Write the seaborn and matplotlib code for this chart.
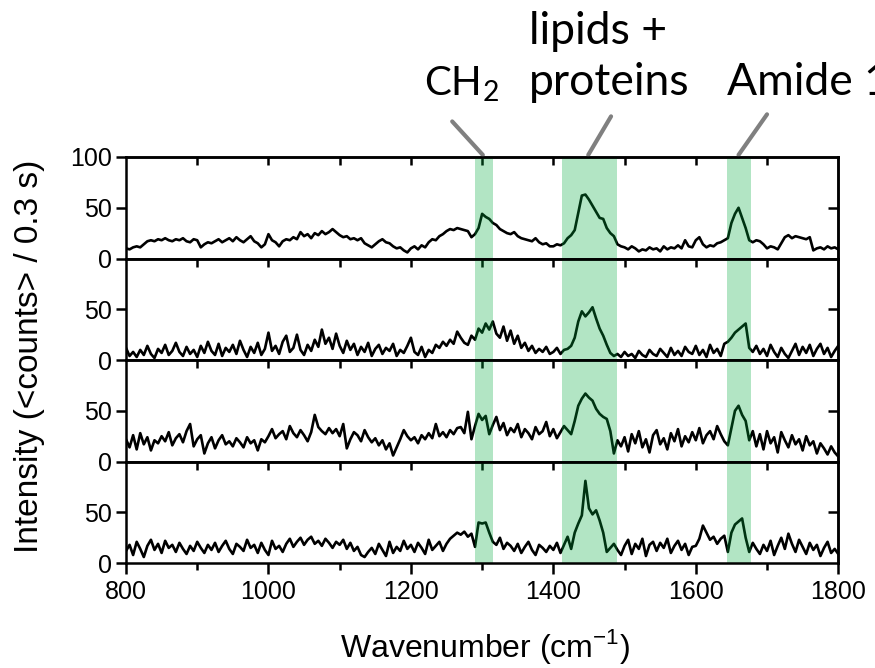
import numpy as np
import matplotlib
matplotlib.use("Agg")
import matplotlib.pyplot as plt
import seaborn as sns

# wavenumber grid, cm^-1
wavenumber = np.arange(800, 1801, 5)

# spectra (top to bottom)
spectrum_1 = [
    10, 9, 11, 12, 11, 14, 17, 18, 17, 19, 18, 20, 18, 17, 19, 18, 20, 17, 16, 19,
    18, 11, 14, 16, 15, 17, 19, 16, 18, 20, 17, 21, 18, 16, 19, 22, 17, 15, 11, 14,
    24, 18, 16, 12, 17, 19, 18, 21, 19, 26, 22, 24, 20, 25, 23, 27, 24, 26, 29, 26,
    23, 21, 22, 19, 20, 18, 20, 15, 13, 11, 14, 17, 19, 16, 15, 12, 10, 11, 8, 6,
    10, 12, 9, 13, 11, 16, 19, 18, 22, 24, 27, 29, 28, 30, 29, 28, 27, 21, 24, 30,
    44, 41, 39, 35, 33, 29, 27, 25, 24, 26, 22, 20, 19, 18, 17, 20, 16, 14, 15, 12,
    12, 14, 13, 15, 20, 23, 28, 45, 62, 63, 58, 52, 46, 40, 39, 30, 25, 22, 14, 12,
    11, 9, 12, 10, 7, 9, 8, 11, 9, 10, 7, 12, 9, 11, 10, 13, 10, 18, 12, 11,
    18, 21, 14, 11, 13, 12, 15, 16, 18, 20, 35, 44, 50, 40, 30, 18, 16, 18, 17, 14,
    10, 12, 11, 9, 15, 21, 23, 20, 22, 21, 20, 19, 21, 8, 10, 11, 9, 12, 10, 11,
    9,
]
spectrum_2 = [
    12, 4, 8, 3, 10, 5, 14, 6, 2, 11, 7, 15, 5, 9, 17, 8, 4, 13, 6, 10,
    3, 14, 7, 18, 9, 5, 16, 4, 12, 8, 15, 6, 19, 10, 3, 13, 7, 17, 5, 11,
    27, 9, 14, 6, 18, 24, 8, 12, 25, 10, 5, 15, 9, 20, 13, 30, 16, 22, 11, 26,
    14, 7, 19, 10, 16, 5, 13, 8, 17, 4, 11, 15, 6, 12, 9, 16, 4, 10, 7, 14,
    22, 8, 5, 13, 3, 10, 7, 15, 12, 18, 14, 20, 16, 28, 22, 17, 15, 24, 20, 31,
    27, 36, 30, 38, 26, 22, 33, 19, 29, 16, 24, 12, 17, 9, 14, 7, 11, 8, 13, 6,
    8, 12, 6, 10, 11, 14, 22, 38, 48, 43, 47, 52, 41, 31, 24, 15, 7, 4, 6, 3,
    8, 4, 6, 2, 9, 5, 3, 10, 6, 4, 11, 7, 3, 12, 5, 9, 4, 13, 8, 6,
    14, 5, 10, 3, 15, 7, 11, 4, 16, 18, 22, 27, 30, 33, 36, 12, 8, 14, 6, 11,
    4, 15, 8, 3, 12, 6, 2, 9, 16, 5, 13, 7, 15, 4, 11, 16, 6, 12, 3, 9,
    14,
]
spectrum_3 = [
    22, 14, 26, 12, 28, 17, 24, 11, 21, 18, 25, 20, 29, 16, 23, 27, 19, 30, 37, 15,
    22, 26, 8, 18, 24, 13, 21, 26, 17, 20, 15, 23, 19, 14, 24, 18, 21, 11, 22, 19,
    25, 32, 23, 27, 30, 22, 35, 28, 24, 31, 26, 20, 29, 46, 34, 30, 27, 33, 28, 32,
    25, 37, 13, 22, 29, 26, 20, 31, 24, 19, 23, 16, 21, 12, 18, 6, 14, 22, 31, 25,
    21, 24, 18, 26, 22, 28, 23, 37, 25, 29, 24, 31, 27, 33, 34, 28, 49, 22, 35, 47,
    41, 45, 27, 36, 44, 31, 38, 26, 33, 29, 37, 24, 32, 28, 22, 34, 27, 30, 39, 25,
    32, 23, 29, 35, 31, 27, 40, 55, 62, 67, 63, 60, 52, 47, 44, 42, 30, 8, 21, 15,
    24, 10, 27, 18, 30, 14, 22, 9, 26, 31, 17, 23, 12, 28, 20, 32, 15, 25, 19, 29,
    21, 33, 18, 26, 30, 22, 35, 27, 20, 16, 33, 50, 55, 46, 40, 21, 30, 15, 27, 12,
    30, 18, 24, 9, 29, 21, 14, 26, 17, 22, 11, 25, 16, 20, 8, 18, 13, 7, 15, 9,
    5,
]
spectrum_4 = [
    12, 18, 8, 21, 14, 6, 17, 23, 13, 19, 10, 22, 15, 18, 11, 20, 14, 9, 17, 12,
    21, 15, 10, 18, 13, 20, 11, 17, 22, 14, 9, 19, 16, 12, 23, 15, 18, 10, 20, 13,
    8, 22, 14, 17, 11, 19, 24, 16, 21, 25, 18, 23, 26, 19, 22, 17, 24, 20, 15, 21,
    18, 23, 14, 20, 12, 16, 8, 6, 11, 15, 9, 19, 13, 7, 21, 10, 16, 12, 22, 14,
    18, 11, 20, 15, 9, 23, 13, 17, 21, 12, 19, 24, 27, 30, 28, 31, 26, 29, 16, 40,
    39, 40, 30, 21, 18, 25, 14, 20, 17, 12, 19, 10, 16, 21, 13, 8, 18, 15, 11, 17,
    13, 20, 10, 18, 26, 14, 30, 39, 47, 81, 54, 48, 52, 42, 30, 11, 15, 19, 13, 8,
    17, 23, 9, 19, 14, 24, 7, 18, 21, 12, 20, 15, 24, 10, 17, 22, 13, 19, 8, 16,
    17, 24, 37, 30, 23, 26, 19, 24, 27, 11, 30, 38, 41, 44, 25, 11, 20, 14, 9, 18,
    12, 22, 8, 17, 25, 14, 29, 19, 11, 23, 16, 9, 20, 13, 18, 7, 15, 21, 10, 14,
    9,
]
spectra = [spectrum_1, spectrum_2, spectrum_3, spectrum_4]

# highlighted bands (cm^-1)
band_starts = [1290, 1412, 1644]
band_ends = [1315, 1490, 1678]

x_major = [800, 1000, 1200, 1400, 1600, 1800]
x_minor = [900, 1100, 1300, 1500, 1700]

sns.set_style("ticks")
plt.rcParams["font.family"] = ["Liberation Sans", "DejaVu Sans"]
plt.rcParams["mathtext.fontset"] = "custom"
plt.rcParams["mathtext.rm"] = "Liberation Sans"
plt.rcParams["mathtext.sf"] = "Lato"
for key in ["text.color", "axes.labelcolor", "xtick.color", "ytick.color",
            "axes.edgecolor"]:
    plt.rcParams[key] = "black"

fig, axes = plt.subplots(4, 1, figsize=(8.75, 6.68), dpi=100, sharex=True)
fig.subplots_adjust(left=0.144, right=0.958, top=0.765, bottom=0.157, hspace=0)

band_color = (0.0, 0.67, 0.24)
lw_axis = 1.8

for i, (ax, spec) in enumerate(zip(axes, spectra)):
    sns.lineplot(x=wavenumber, y=spec, ax=ax, color="black", linewidth=1.9, zorder=2)
    for b0, b1 in zip(band_starts, band_ends):
        ax.axvspan(b0, b1, color=band_color, alpha=0.3, lw=0, zorder=2.2)
    ax.set_xlim(800, 1800)
    ax.set_ylim(0, 100)
    for s in ax.spines.values():
        s.set_visible(True)
        s.set_linewidth(lw_axis)
        s.set_color("black")
        s.set_zorder(3)
    ax.set_yticks([0, 50, 100] if i == 0 else [0, 50])
    ax.tick_params(axis="y", direction="out", length=7, width=lw_axis,
                   labelsize=18, pad=3, right=False, colors="black")
    ax.set_ylabel("")
    ax.set_xlabel("")

    # inward ticks on the top edge and the right side
    top = ax.secondary_xaxis("top")
    top.set_xticks(list(range(900, 1800, 100)))
    top.tick_params(direction="in", length=6, width=lw_axis, labeltop=False,
                    colors="black")
    top.spines["top"].set_linewidth(lw_axis)
    right = ax.secondary_yaxis("right")
    right.set_yticks([50])
    right.tick_params(direction="in", length=7, width=lw_axis, labelright=False,
                      colors="black")
    right.spines["right"].set_linewidth(lw_axis)

    if i < 3:
        ax.tick_params(axis="x", which="both", bottom=False, labelbottom=False)

bottom_ax = axes[-1]
bottom_ax.set_xticks(x_major)
bottom_ax.set_xticks(x_minor, minor=True)
bottom_ax.tick_params(axis="x", which="major", direction="out", length=8,
                      width=lw_axis, labelsize=18, pad=4, colors="black")
bottom_ax.tick_params(axis="x", which="minor", direction="out", length=5,
                      width=lw_axis, colors="black")

fig.text(0.554, 0.017, r"Wavenumber (cm$^{-1}$)", fontsize=23,
         ha="center", va="baseline")
fig.text(0.034, 0.466, "Intensity (<counts> / 0.3 s)", fontsize=24,
         ha="center", va="center", rotation=90)

# peak annotations above the top panel
top_ax = axes[0]
label_font = dict(family="Lato", ha="left", va="baseline", color="black")
top_ax.text(1218, 161, r"CH$_{\mathsf{2}}$", fontsize=29, clip_on=False,
            **label_font)
top_ax.text(1366, 211, "lipids +", fontsize=32, clip_on=False, **label_font)
top_ax.text(1366, 161, "proteins", fontsize=32, clip_on=False, **label_font)
top_ax.text(1644, 161, "Amide 1", fontsize=32, clip_on=False, **label_font)

pointer = dict(arrowstyle="-", color="#808080", lw=3, shrinkA=0, shrinkB=0)
top_ax.annotate("", xy=(1301, 102), xytext=(1258, 135), xycoords="data",
                arrowprops=pointer, annotation_clip=False)
top_ax.annotate("", xy=(1449, 102), xytext=(1481, 140), xycoords="data",
                arrowprops=pointer, annotation_clip=False)
top_ax.annotate("", xy=(1660, 102), xytext=(1700, 142), xycoords="data",
                arrowprops=pointer, annotation_clip=False)

fig.savefig("out.png", dpi=100)
